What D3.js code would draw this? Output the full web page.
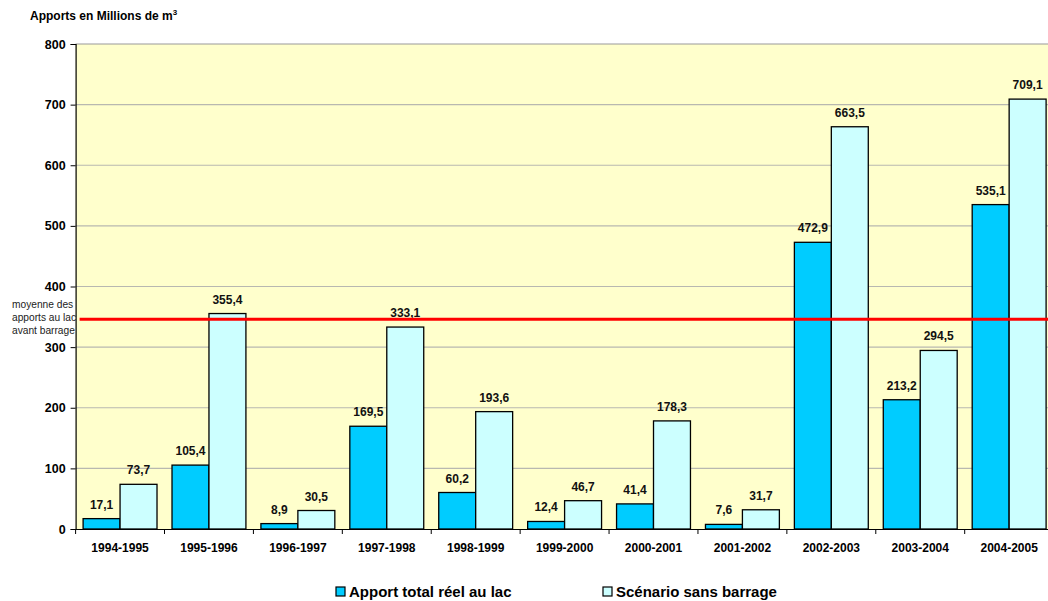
<!DOCTYPE html>
<html><head><meta charset="utf-8">
<script src="https://cdn.jsdelivr.net/npm/d3@7"></script>
<style>body{margin:0;background:#fff;overflow:hidden}text{font-family:"Liberation Sans",Arial,sans-serif}</style>
</head><body><svg id="c" width="1048" height="601"></svg>
<script>
const categories=["1994-1995","1995-1996","1996-1997","1997-1998","1998-1999","1999-2000","2000-2001","2001-2002","2002-2003","2003-2004","2004-2005"];
const apportReel=[17.1,105.4,8.9,169.5,60.2,12.4,41.4,7.6,472.9,213.2,535.1];
const sansBarrage=[73.7,355.4,30.5,333.1,193.6,46.7,178.3,31.7,663.5,294.5,709.1];
const yTicks=[0,100,200,300,400,500,600,700,800];
const moyenne=346;
const seriesNames=["Apport total réel au lac","Scénario sans barrage"];
const colors=["#00CCFF","#CCFFFF"];
const FF="'Liberation Sans', Arial, sans-serif";

const svg=d3.select("#c");
const L=75.6,R=1053.6,T=44,B=529;
const x=d3.scaleBand().domain(categories).range([L,R]).paddingInner(15/88.9).paddingOuter(7.5/88.9);
const xs=d3.scaleBand().domain([0,1]).range([0,x.bandwidth()]);
const y=d3.scaleLinear().domain([0,800]).range([B,T]);
const fmt=v=>v.toFixed(1).replace(".",",");

svg.append("rect").attr("x",L).attr("y",T).attr("width",R-L).attr("height",B-T).attr("fill","#FFFFCC");
svg.append("g").selectAll("line").data(yTicks.filter(d=>d>0)).join("line")
  .attr("x1",L).attr("x2",R).attr("y1",d=>y(d)).attr("y2",d=>y(d))
  .attr("stroke",d=>d===800?"#999":"#b8b8b0").attr("stroke-width",1.2);

const series=[apportReel,sansBarrage];
series.forEach((s,si)=>{
  const g=svg.append("g");
  g.selectAll("rect").data(s).join("rect")
    .attr("x",(d,i)=>x(categories[i])+xs(si)).attr("width",xs.bandwidth())
    .attr("y",d=>y(d)).attr("height",d=>B-y(d))
    .attr("fill",colors[si]).attr("stroke","#000").attr("stroke-width",1.3);
  g.selectAll("text").data(s).join("text")
    .attr("x",(d,i)=>x(categories[i])+xs(si)+xs.bandwidth()/2).attr("y",d=>y(d)-10)
    .attr("text-anchor","middle").attr("font-size",12).attr("font-weight","bold").attr("fill","#111").text(fmt);
});

// red average line
svg.append("line").attr("x1",L+4).attr("x2",R).attr("y1",y(moyenne)).attr("y2",y(moyenne)).attr("stroke","#FF0000").attr("stroke-width",3);
const lab=svg.append("text").attr("font-size",10.2).attr("fill","#222");
["moyenne des","apports au lac","avant barrage"].forEach((t,i)=>lab.append("tspan").attr("x",12).attr("y",308+i*13).text(t));

// y axis
const ya=svg.append("g").attr("transform",`translate(${L},0)`).call(d3.axisLeft(y).tickValues(yTicks).tickSize(5).tickPadding(5));
ya.select(".domain").attr("stroke","#000").attr("stroke-width",1.2);
ya.selectAll("line").attr("stroke","#000");
ya.selectAll("text").attr("font-size",12.5).attr("font-weight","bold").attr("fill","#000").style("font-family",FF);

// x axis
const xa=svg.append("g").attr("transform",`translate(0,${B})`).call(d3.axisBottom(x).tickSize(0).tickPadding(14));
xa.select(".domain").attr("stroke","#000").attr("stroke-width",1.2);
xa.selectAll("text").attr("font-size",12).attr("font-weight","bold").attr("fill","#000").style("font-family",FF);
svg.append("g").selectAll("line").data(categories).join("line")
  .attr("x1",d=>x(d)-x.step()*x.paddingOuter()).attr("x2",d=>x(d)-x.step()*x.paddingOuter())
  .attr("y1",B).attr("y2",B+5).attr("stroke","#000");

// title
const ti=svg.append("text").attr("x",30).attr("y",20).attr("font-size",12).attr("font-weight","bold").attr("fill","#000");
ti.append("tspan").text("Apports en Millions de m");
ti.append("tspan").attr("font-size",8).attr("dy",-5).text("3");

// legend
const lx=[336,603];
seriesNames.forEach((n,i)=>{
  svg.append("rect").attr("x",lx[i]).attr("y",587).attr("width",9).attr("height",9).attr("fill",colors[i]).attr("stroke","#000").attr("stroke-width",1.2);
  svg.append("text").attr("x",lx[i]+13).attr("y",597).attr("font-size",15).attr("font-weight","bold").attr("fill","#000").text(n);
});
</script></body></html>
